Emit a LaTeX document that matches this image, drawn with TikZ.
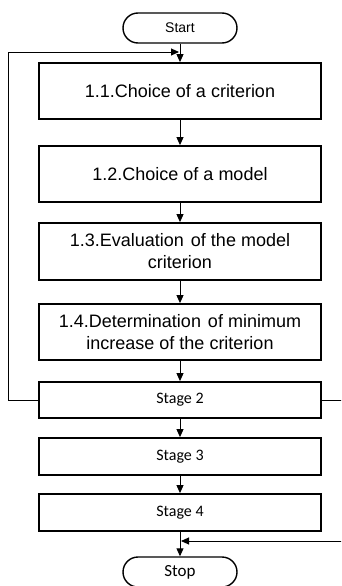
\documentclass[tikz,border=0pt]{standalone}
\usepackage{fontspec}
\setmainfont{Liberation Sans}
\newfontfamily\carfont{Carlito}
\usetikzlibrary{arrows.meta}
\begin{document}
\begin{tikzpicture}[x=1pt,y=-1pt,
  proc/.style={draw,line width=1.8pt,minimum width=282pt,inner sep=0pt,align=center,font=\fontsize{18}{22}\selectfont},
  stg/.style={draw,line width=1.8pt,minimum width=282pt,minimum height=36pt,inner sep=0pt,font=\carfont\fontsize{16}{19}\selectfont},
  term/.style={draw,line width=1.4pt,rounded corners=15pt,minimum width=114pt,minimum height=30pt,inner sep=0pt},
  conn/.style={line width=0.9pt,-{Triangle[length=8pt,width=7pt]}}]
\clip (0,0) rectangle (341,586);
\fill[white] (0,0) rectangle (341,586);
\node[term,font=\fontsize{14}{16}\selectfont] (start) at (180,28) {Start};
\node[proc,minimum height=56pt] (b1) at (180,91) {1.1.Choice of a criterion};
\node[proc,minimum height=56pt] (b2) at (180,174) {1.2.Choice of a model};
\node[proc,minimum height=57pt] (b3) at (180,251.5) {1.3.Evaluation\hspace{2pt} of the model\\criterion};
\node[proc,minimum height=56pt] (b4) at (180,332) {1.4.Determination\hspace{2pt} of minimum\\increase of the criterion};
\node[stg] (s2) at (180,400) {Stage 2};
\node[stg,minimum height=37pt] (s3) at (180,456.5) {Stage 3};
\node[stg,minimum height=37pt] (s4) at (180,512.5) {Stage 4};
\node[term,font=\carfont\fontsize{17}{20}\selectfont] (stop) at (180,572) {Stop};
\coordinate (fbin) at (179,52);
\coordinate (fbL) at (8,400);
\coordinate (fbR) at (346,400);
\coordinate (rin) at (181,541);
\draw[conn] (start) -- (b1);
\draw[conn] (b1) -- (b2);
\draw[conn] (b2) -- (b3);
\draw[conn] (b3) -- (b4);
\draw[conn] (b4) -- (s2);
\draw[conn] (s2) -- (s3);
\draw[conn] (s3) -- (s4);
\draw[conn] (s4) -- (stop);
\draw[conn] (s2.west) -- (fbL) |- (fbin);
\draw[conn] (s2.east) -- (fbR) |- (rin);
\end{tikzpicture}
\end{document}
